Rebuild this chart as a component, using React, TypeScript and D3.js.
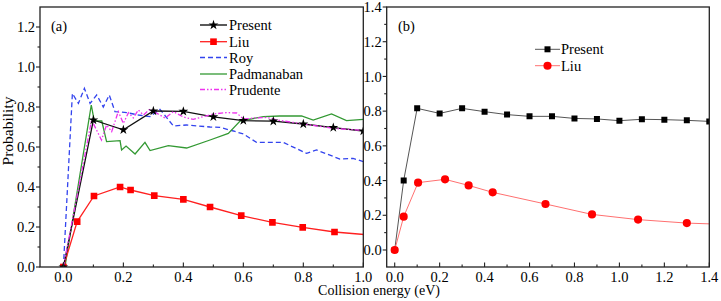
import React from 'react';
import * as d3 from 'd3';

// ---------- Panel (a) data ----------
const presentAx = [0, 0.1, 0.2, 0.3, 0.4, 0.5, 0.6, 0.7, 0.8, 0.9, 1.0];
const presentAy = [0, 0.735, 0.686, 0.78, 0.778, 0.751, 0.732, 0.729, 0.715, 0.697, 0.68];

const liuAx = [0, 0.046, 0.102, 0.189, 0.224, 0.303, 0.4, 0.489, 0.593, 0.697, 0.798, 0.904, 1.1];
const liuAy = [0, 0.227, 0.355, 0.4, 0.385, 0.357, 0.338, 0.3, 0.257, 0.223, 0.198, 0.175, 0.15];

const royX = [0, 0.03, 0.05, 0.07, 0.089, 0.111, 0.133, 0.153, 0.172, 0.211, 0.25, 0.289, 0.322, 0.367, 0.41, 0.489, 0.522, 0.567, 0.6, 0.644, 0.733, 0.811, 0.844, 0.922, 0.966, 1.0];
const royY = [0, 0.868, 0.818, 0.893, 0.818, 0.86, 0.8, 0.86, 0.777, 0.772, 0.76, 0.752, 0.788, 0.705, 0.71, 0.7, 0.698, 0.68, 0.665, 0.623, 0.623, 0.568, 0.585, 0.54, 0.543, 0.527];

const padX = [0.005, 0.093, 0.103, 0.128, 0.144, 0.189, 0.194, 0.209, 0.239, 0.272, 0.289, 0.35, 0.411, 0.489, 0.55, 0.589, 0.667, 0.722, 0.794, 0.833, 0.894, 0.944, 1.0];
const padY = [0, 0.81, 0.73, 0.73, 0.627, 0.632, 0.585, 0.605, 0.565, 0.623, 0.582, 0.607, 0.595, 0.635, 0.668, 0.73, 0.752, 0.755, 0.755, 0.735, 0.765, 0.732, 0.738];

const prudX = [0, 0.094, 0.127, 0.144, 0.161, 0.183, 0.2, 0.217, 0.233, 0.25, 0.267, 0.289, 0.31, 0.339, 0.367, 0.4, 0.433, 0.467, 0.5, 0.544, 0.578, 0.6, 0.64, 0.678, 0.711, 0.789, 0.9, 1.0];
const prudY = [0, 0.735, 0.635, 0.71, 0.677, 0.777, 0.718, 0.772, 0.745, 0.785, 0.76, 0.79, 0.77, 0.745, 0.777, 0.75, 0.738, 0.752, 0.765, 0.772, 0.77, 0.74, 0.745, 0.748, 0.735, 0.718, 0.693, 0.683];

// ---------- Panel (b) data ----------
const presentBx = [0, 0.04, 0.1, 0.2, 0.3, 0.4, 0.5, 0.6, 0.7, 0.8, 0.9, 1.0, 1.1, 1.2, 1.3, 1.4];
const presentBy = [0, 0.401, 0.816, 0.787, 0.816, 0.797, 0.78, 0.77, 0.77, 0.758, 0.755, 0.745, 0.753, 0.751, 0.747, 0.741];

const liuBx = [0, 0.04, 0.104, 0.224, 0.329, 0.436, 0.671, 0.878, 1.083, 1.3, 1.52];
const liuBy = [0, 0.192, 0.388, 0.407, 0.372, 0.332, 0.265, 0.205, 0.175, 0.155, 0.145];

// ---------- ticks & labels ----------
const aXTicks = [0, 0.2, 0.4, 0.6, 0.8, 1.0];
const aXMinor = [0.1, 0.3, 0.5, 0.7, 0.9];
const aYTicks = [0, 0.2, 0.4, 0.6, 0.8, 1.0, 1.2];
const aYMinor = [0.1, 0.3, 0.5, 0.7, 0.9, 1.1];
const bXTicks = [0, 0.2, 0.4, 0.6, 0.8, 1.0, 1.2, 1.4];
const bXMinor = [0.1, 0.3, 0.5, 0.7, 0.9, 1.1, 1.3];
const bYTicks = [0, 0.2, 0.4, 0.6, 0.8, 1.0, 1.2, 1.4];
const bYMinor = [0.1, 0.3, 0.5, 0.7, 0.9, 1.1, 1.3];

const legendA = ['Present', 'Liu', 'Roy', 'Padmanaban', 'Prudente'];
const legendB = ['Present', 'Liu'];
const xTitle = 'Collision energy (eV)';
const yTitle = 'Probability';

const FONT = 'Liberation Serif, Times New Roman, Times, serif';
const AXIS = '#222';
const TS: React.CSSProperties = { fontFamily: FONT, fontSize: 14.5 };

const zip = (xs: number[], ys: number[]) => xs.map((x, i) => [x, ys[i]] as [number, number]);

function Axes({ xs, ys, xt, xm, yt, ym }: any) {
  const [x0, x1] = xs.range();
  const [y0, y1] = ys.range();
  return (
    <g>
      <rect x={x0} y={y1} width={x1 - x0} height={y0 - y1} fill="none" stroke={AXIS} strokeWidth={1.3} />
      {xt.map((t: number) => (
        <g key={'xt' + t}>
          <line x1={xs(t)} x2={xs(t)} y1={y0} y2={y0 - 4.5} stroke={AXIS} strokeWidth={1.1} />
          <text x={xs(t)} y={y0 + 14.5} textAnchor="middle" style={TS}>{t.toFixed(1)}</text>
        </g>
      ))}
      {xm.map((t: number) => (
        <line key={'xm' + t} x1={xs(t)} x2={xs(t)} y1={y0} y2={y0 - 2.5} stroke={AXIS} strokeWidth={1.1} />
      ))}
      {yt.map((t: number) => (
        <g key={'yt' + t}>
          <line x1={x0} x2={x0 - 4} y1={ys(t)} y2={ys(t)} stroke={AXIS} strokeWidth={1.1} />
          <text x={x0 - 5} y={ys(t)} dy="0.35em" textAnchor="end" style={TS}>{t.toFixed(1)}</text>
        </g>
      ))}
      {ym.map((t: number) => (
        <line key={'ym' + t} x1={x0} x2={x0 - 2.5} y1={ys(t)} y2={ys(t)} stroke={AXIS} strokeWidth={1.1} />
      ))}
    </g>
  );
}

export default function App() {
  const ax = d3.scaleLinear().domain([-0.078, 1.0]).range([40, 363.3]);
  const ay = d3.scaleLinear().domain([0, 1.3]).range([267, 7]);
  const bx = d3.scaleLinear().domain([-0.0356, 1.4]).range([386.7, 709.3]);
  const by = d3.scaleLinear().domain([-0.098, 1.4]).range([267, 7]);

  const lineA = d3.line<[number, number]>().x(d => ax(d[0])).y(d => ay(d[1]));
  const lineB = d3.line<[number, number]>().x(d => bx(d[0])).y(d => by(d[1]));

  const star = d3.symbol().type(d3.symbolStar).size(30)() as string;
  const sqA = d3.symbol().type(d3.symbolSquare).size(44)() as string;
  const sqB = d3.symbol().type(d3.symbolSquare).size(36)() as string;
  const circ = d3.symbol().type(d3.symbolCircle).size(52)() as string;

  const presentA = zip(presentAx, presentAy);
  const liuA = zip(liuAx, liuAy);
  const roy = zip(royX, royY);
  const pad = zip(padX, padY);
  const prud = zip(prudX, prudY);
  const presentB = zip(presentBx, presentBy);
  const liuB = zip(liuBx, liuBy);

  const [ax0, ax1] = ax.range();
  const [ay0, ay1] = ay.range();
  const [bx0, bx1] = bx.range();
  const [by0, by1] = by.range();

  const legRowsA = [25, 41.7, 57.5, 74, 89.5];
  const legRowsB = [49.3, 65.7];

  const legStyleA = [
    { stroke: '#000', dash: undefined, marker: star, fill: '#000' },
    { stroke: '#ff2020', dash: undefined, marker: sqA, fill: '#ff0000' },
    { stroke: '#3344ee', dash: '5,3', marker: null, fill: '' },
    { stroke: '#339933', dash: undefined, marker: null, fill: '' },
    { stroke: '#ee33ee', dash: '5,2,1.5,2,1.5,2', marker: null, fill: '' },
  ];

  return (
    <svg width={721} height={301} style={{ position: 'absolute', left: 0, top: 0, background: '#fff', fontFamily: FONT }}
      xmlns="http://www.w3.org/2000/svg">
      <defs>
        <clipPath id="clipA"><rect x={ax0} y={ay1} width={ax1 - ax0} height={ay0 - ay1} /></clipPath>
        <clipPath id="clipB"><rect x={bx0} y={by1} width={bx1 - bx0} height={by0 - by1} /></clipPath>
      </defs>
      <rect x={0} y={0} width={721} height={301} fill="#fff" />

      {/* Panel (a) */}
      <g clipPath="url(#clipA)">
        <path d={lineA(roy) || ''} fill="none" stroke="#3344ee" strokeWidth={1.3} strokeDasharray="5,3" />
        <path d={lineA(pad) || ''} fill="none" stroke="#339933" strokeWidth={1.3} />
        <path d={lineA(liuA) || ''} fill="none" stroke="#ff2020" strokeWidth={1.3} />
        {liuA.map((p, i) => (
          <path key={'la' + i} d={sqA} transform={`translate(${ax(p[0])},${ay(p[1])})`} fill="#ff0000" />
        ))}
        <path d={lineA(presentA) || ''} fill="none" stroke="#111" strokeWidth={1.3} />
        <path d={lineA(prud) || ''} fill="none" stroke="#ee33ee" strokeWidth={1.3} strokeDasharray="5,2,1.5,2,1.5,2" />
        {presentA.map((p, i) => (
          <path key={'pa' + i} d={star} transform={`translate(${ax(p[0])},${ay(p[1])})`} fill="#000" />
        ))}
      </g>
      <Axes xs={ax} ys={ay} xt={aXTicks} xm={aXMinor} yt={aYTicks} ym={aYMinor} />
      <text x={51} y={31} style={TS}>(a)</text>
      {legendA.map((name, i) => {
        const s = legStyleA[i];
        const y = legRowsA[i];
        return (
          <g key={'lgA' + i}>
            <line x1={200} x2={227} y1={y} y2={y} stroke={s.stroke} strokeWidth={1.3} strokeDasharray={s.dash} />
            {s.marker && <path d={s.marker} transform={`translate(213.5,${y})`} fill={s.fill} />}
            <text x={229} y={y} dy="0.35em" style={TS}>{name}</text>
          </g>
        );
      })}

      {/* Panel (b) */}
      <g clipPath="url(#clipB)">
        <path d={lineB(presentB) || ''} fill="none" stroke="#555" strokeWidth={1} />
        {presentB.map((p, i) => (
          <path key={'pb' + i} d={sqB} transform={`translate(${bx(p[0])},${by(p[1])})`} fill="#000" />
        ))}
        <path d={lineB(liuB) || ''} fill="none" stroke="#ff7070" strokeWidth={1} />
        {liuB.map((p, i) => (
          <path key={'lb' + i} d={circ} transform={`translate(${bx(p[0])},${by(p[1])})`} fill="#ff0000" />
        ))}
      </g>
      <Axes xs={bx} ys={by} xt={bXTicks} xm={bXMinor} yt={bYTicks} ym={bYMinor} />
      <text x={398} y={31} style={TS}>(b)</text>
      {legendB.map((name, i) => {
        const y = legRowsB[i];
        return (
          <g key={'lgB' + i}>
            <line x1={535} x2={560} y1={y} y2={y} stroke={i === 0 ? '#555' : '#ff7070'} strokeWidth={1} />
            <path d={i === 0 ? sqB : circ} transform={`translate(547.5,${y})`} fill={i === 0 ? '#000' : '#ff0000'} />
            <text x={561} y={y} dy="0.35em" style={TS}>{name}</text>
          </g>
        );
      })}

      {/* Axis titles */}
      <text x={379} y={295} textAnchor="middle" style={{ fontFamily: FONT, fontSize: 14 }}>{xTitle}</text>
      <text transform="translate(13,131) rotate(-90)" textAnchor="middle" style={{ fontFamily: FONT, fontSize: 15.5 }}>{yTitle}</text>
    </svg>
  );
}
